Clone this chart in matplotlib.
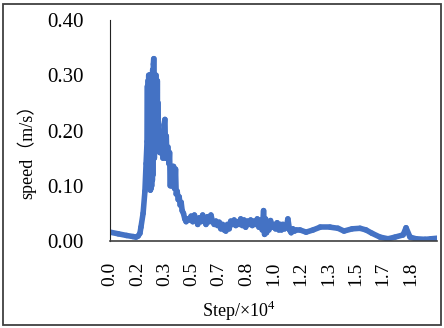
import matplotlib
matplotlib.use('Agg')
import matplotlib.pyplot as plt
from matplotlib.patches import Rectangle
from matplotlib.collections import LineCollection

plt.rcParams['font.family'] = ['Liberation Serif', 'Noto Sans CJK SC', 'DejaVu Sans']
plt.rcParams['mathtext.fontset'] = 'custom'
plt.rcParams['mathtext.rm'] = 'Liberation Serif'

# step (x 10^4) and speed (m/s), split by stage of the run
rise_step = [0.000, 0.050, 0.100, 0.140, 0.157, 0.170, 0.181, 0.187, 0.200, 0.211, 0.218]
rise_speed = [0.016, 0.013, 0.010, 0.008, 0.007, 0.009, 0.014, 0.025, 0.050, 0.090, 0.140]

peak_step = [0.224, 0.226, 0.228, 0.230, 0.232, 0.234, 0.236, 0.238, 0.240, 0.242,
             0.244, 0.246, 0.248, 0.250, 0.252, 0.254, 0.256, 0.258, 0.260, 0.262,
             0.264, 0.266, 0.268, 0.270, 0.272, 0.274, 0.276, 0.278, 0.280, 0.282,
             0.284, 0.286, 0.288, 0.290, 0.294, 0.298, 0.302]
peak_speed = [0.180, 0.280, 0.120, 0.290, 0.110, 0.300, 0.100, 0.300, 0.095, 0.300,
              0.092, 0.300, 0.095, 0.300, 0.100, 0.300, 0.110, 0.310, 0.120, 0.320,
              0.330, 0.330, 0.150, 0.300, 0.160, 0.300, 0.170, 0.300, 0.170, 0.290,
              0.180, 0.290, 0.170, 0.250, 0.170, 0.200, 0.160]

decay_step = [0.306, 0.310, 0.314, 0.320, 0.326, 0.332, 0.336, 0.340, 0.344, 0.350,
              0.356, 0.360, 0.364, 0.368, 0.372, 0.376, 0.380, 0.384, 0.390, 0.396,
              0.400, 0.406, 0.412, 0.418, 0.424, 0.430, 0.436, 0.444, 0.452]
decay_speed = [0.180, 0.160, 0.190, 0.150, 0.210, 0.220, 0.150, 0.190, 0.150, 0.170,
               0.140, 0.160, 0.100, 0.135, 0.100, 0.135, 0.100, 0.135, 0.095, 0.130,
               0.085, 0.090, 0.075, 0.080, 0.065, 0.070, 0.055, 0.050, 0.040]

mid_step = [0.460, 0.470, 0.480, 0.490, 0.500, 0.510, 0.520, 0.530, 0.540, 0.550,
            0.560, 0.570, 0.580, 0.590, 0.600, 0.610, 0.620, 0.630, 0.640, 0.650,
            0.660, 0.670, 0.680, 0.690, 0.700, 0.710, 0.720, 0.730, 0.740, 0.750,
            0.760, 0.770, 0.780, 0.790, 0.800, 0.810, 0.820, 0.830, 0.840, 0.850,
            0.860, 0.870, 0.880, 0.890, 0.900, 0.910, 0.920, 0.928, 0.934, 0.940,
            0.946, 0.952, 0.960, 0.970, 0.980, 0.990, 1.000, 1.010, 1.020, 1.030,
            1.036, 1.045, 1.055, 1.065, 1.075, 1.085, 1.095, 1.105, 1.115, 1.125]
mid_speed = [0.035, 0.040, 0.038, 0.045, 0.035, 0.047, 0.040, 0.030, 0.042, 0.035,
             0.047, 0.040, 0.030, 0.044, 0.035, 0.047, 0.035, 0.030, 0.036, 0.028,
             0.034, 0.022, 0.030, 0.020, 0.018, 0.030, 0.022, 0.036, 0.030, 0.038,
             0.028, 0.035, 0.030, 0.040, 0.028, 0.038, 0.025, 0.036, 0.030, 0.038,
             0.028, 0.036, 0.030, 0.040, 0.025, 0.038, 0.020, 0.055, 0.012, 0.040,
             0.015, 0.035, 0.020, 0.037, 0.025, 0.030, 0.022, 0.033, 0.020, 0.030,
             0.020, 0.030, 0.022, 0.025, 0.040, 0.020, 0.015, 0.022, 0.018, 0.020]

tail_step = [1.148, 1.185, 1.227, 1.270, 1.330, 1.378, 1.414, 1.463, 1.511, 1.547,
             1.583, 1.632, 1.680, 1.722, 1.771, 1.789, 1.813, 1.849, 1.904, 1.940,
             1.976]
tail_speed = [0.020, 0.016, 0.020, 0.025, 0.025, 0.023, 0.018, 0.022, 0.023, 0.020,
              0.014, 0.007, 0.004, 0.007, 0.011, 0.024, 0.007, 0.004, 0.003, 0.004,
              0.005]

xtick_pos = [0.000, 0.165, 0.330, 0.495, 0.660, 0.825, 0.990, 1.155, 1.320, 1.485, 1.650, 1.815]
xtick_labels = ['0.0', '0.2', '0.3', '0.5', '0.7', '0.8', '1.0', '1.2', '1.3', '1.5', '1.7', '1.8']
ytick_pos = [0.0, 0.1, 0.2, 0.3, 0.4]
ytick_labels = ['0.00', '0.10', '0.20', '0.30', '0.40']

step = rise_step + peak_step + decay_step + mid_step + tail_step
speed = rise_speed + peak_speed + decay_speed + mid_speed + tail_speed

W, H = 444, 328
fig = plt.figure(figsize=(W / 100, H / 100), dpi=100)
ax = fig.add_axes([110 / W, 1 - 241 / H, 327 / W, 221 / H])

# each segment stroked on its own so the dense zig-zag fills solid
pts = list(zip(step, speed))
segs = [[pts[i], pts[i + 1]] for i in range(len(pts) - 1)]
lc = LineCollection(segs, colors='#4472C4', linewidths=4.0, capstyle='round')
ax.add_collection(lc)

ax.set_xlim(0, 1.976)
ax.set_ylim(0, 0.4)
ax.set_xticks(xtick_pos)
ax.set_xticklabels(xtick_labels, rotation=90, fontsize=14)
ax.set_yticks(ytick_pos)
ax.set_yticklabels(ytick_labels, fontsize=15)
ax.tick_params(axis='x', length=0, pad=15)
ax.tick_params(axis='y', length=0, pad=19)

for side in ['top', 'right']:
    ax.spines[side].set_visible(False)
ax.spines['left'].set_color('#222222')
ax.spines['left'].set_linewidth(0.8)
ax.spines['bottom'].set_color('#404040')
ax.spines['bottom'].set_linewidth(1.2)

fig.text(27 / W, 1 - 147 / H, 'speed（m/s）', rotation=90, ha='center', va='center', fontsize=13)
fig.text(239 / W, 1 - 311 / H, 'Step/×10$^{4}$', ha='center', va='center', fontsize=13)

# outer frame
fig.patches.append(Rectangle((3 / W, 3 / H), 438 / W, 321 / H, transform=fig.transFigure,
                             fill=False, edgecolor='#404040', lw=1.3))

fig.savefig('out.png', dpi=100)
